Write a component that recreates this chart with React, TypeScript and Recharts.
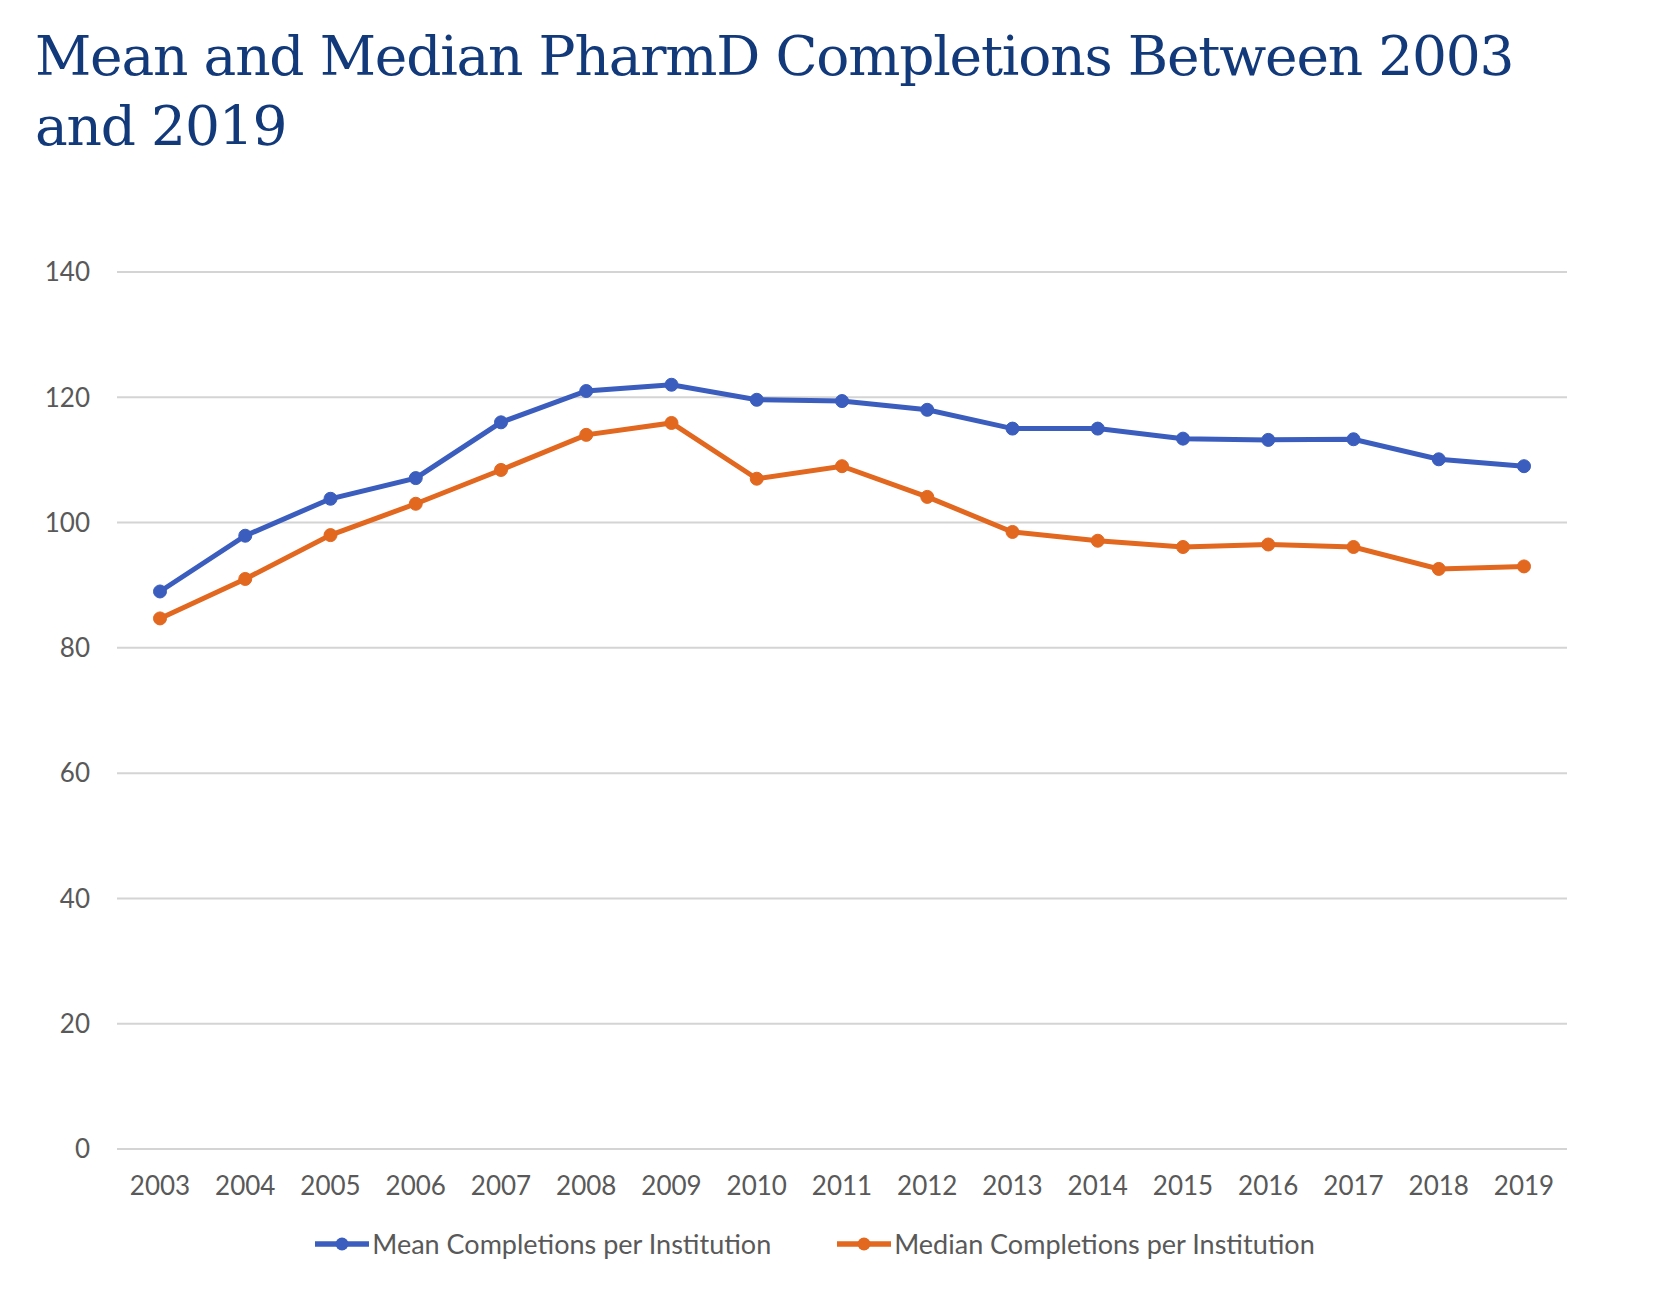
import React from 'react';
import {
  LineChart,
  Line,
  XAxis,
  YAxis,
  CartesianGrid,
  Legend,
} from 'recharts';

const years = [
  '2003', '2004', '2005', '2006', '2007', '2008', '2009', '2010', '2011',
  '2012', '2013', '2014', '2015', '2016', '2017', '2018', '2019',
];
const meanCompletions = [
  89.0, 97.9, 103.8, 107.1, 116.0, 121.0, 122.0, 119.6, 119.4,
  118.0, 115.0, 115.0, 113.4, 113.2, 113.3, 110.1, 109.0,
];
const medianCompletions = [
  84.7, 91.0, 98.0, 103.0, 108.4, 114.0, 115.9, 107.0, 109.0,
  104.1, 98.5, 97.1, 96.1, 96.5, 96.1, 92.6, 93.0,
];
const yTicks = [0, 20, 40, 60, 80, 100, 120, 140];

const BLUE = '#3A5DBE';
const ORANGE = '#E2671F';
const TEXT = '#595959';

const data = years.map((year, i) => ({
  year,
  mean: meanCompletions[i],
  median: medianCompletions[i],
}));

function LegendContent({ payload }: any) {
  return (
    <div style={{ display: 'flex', justifyContent: 'center', alignItems: 'center' }}>
      {(payload || []).map((item: any, i: number) => (
        <div
          key={item.value}
          style={{ display: 'flex', alignItems: 'center', marginLeft: i === 0 ? 0 : 66 }}
        >
          <svg width={54} height={16} style={{ marginRight: 3 }}>
            <line x1={0} y1={8} x2={54} y2={8} stroke={item.color} strokeWidth={5.5} />
            <circle cx={27} cy={8} r={6.5} fill={item.color} />
          </svg>
          <span style={{ fontFamily: 'Lato', fontSize: 27, color: TEXT }}>{item.value}</span>
        </div>
      ))}
    </div>
  );
}

export default function App() {
  return (
    <div
      style={{
        position: 'absolute',
        left: 0,
        top: 0,
        width: 1678,
        height: 1306,
        background: '#ffffff',
        overflow: 'hidden',
      }}
    >
      <div
        style={{
          position: 'absolute',
          left: 35,
          top: 21,
          fontFamily: '"DejaVu Serif"',
          fontSize: 55,
          letterSpacing: -1.2,
          lineHeight: '70px',
          color: '#12397A',
          whiteSpace: 'nowrap',
        }}
      >
        Mean and Median PharmD Completions Between 2003
        <br />
        and 2019
      </div>
      <div style={{ position: 'absolute', left: 0, top: 0 }}>
        <LineChart
          width={1678}
          height={1306}
          data={data}
          margin={{ top: 272, right: 111, bottom: 97, left: 0 }}
        >
          <CartesianGrid vertical={false} stroke="#D4D4D4" strokeWidth={2} />
          <XAxis
            dataKey="year"
            height={60}
            axisLine={false}
            tickLine={false}
            tickSize={0}
            tickMargin={28}
            padding={{ left: 43, right: 43 }}
            interval={0}
            tick={{ fill: TEXT, fontSize: 26, fontFamily: 'Lato' }}
          />
          <YAxis
            width={117}
            domain={[0, 140]}
            ticks={yTicks}
            axisLine={false}
            tickLine={false}
            tickSize={0}
            tickMargin={27}
            tick={{ fill: TEXT, fontSize: 26, fontFamily: 'Lato' }}
          />
          <Legend
            verticalAlign="middle"
            align="center"
            layout="horizontal"
            wrapperStyle={{ top: 1227, left: 0, width: 1630 }}
            content={<LegendContent />}
          />
          <Line
            type="linear"
            dataKey="mean"
            name="Mean Completions per Institution"
            stroke={BLUE}
            strokeWidth={5}
            dot={{ r: 6.5, fill: BLUE, stroke: BLUE, strokeWidth: 1 }}
            activeDot={false}
            isAnimationActive={false}
          />
          <Line
            type="linear"
            dataKey="median"
            name="Median Completions per Institution"
            stroke={ORANGE}
            strokeWidth={5}
            dot={{ r: 6.5, fill: ORANGE, stroke: ORANGE, strokeWidth: 1 }}
            activeDot={false}
            isAnimationActive={false}
          />
        </LineChart>
      </div>
    </div>
  );
}
